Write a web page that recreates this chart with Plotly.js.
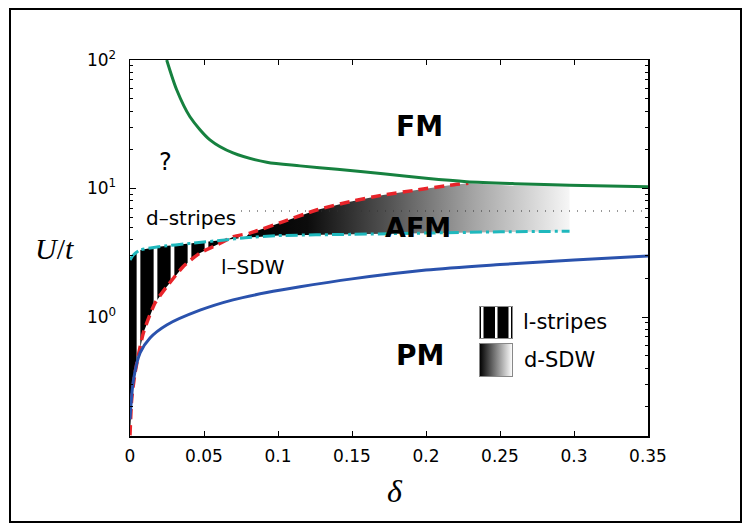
<!DOCTYPE html>
<html>
<head>
<meta charset="utf-8">
<script src="https://cdn.plot.ly/plotly-3.0.1.min.js"></script>
<style>html,body{margin:0;padding:0;background:#fff;}#chart{width:746px;height:525px;}</style>
</head>
<body>
<div id="chart"></div>
<script>
// ---- data ----
const greenX = [0.0248, 0.0316, 0.0405, 0.054, 0.0696, 0.0924, 0.1149, 0.14, 0.171, 0.2, 0.2275, 0.26, 0.297, 0.35];
const greenY = [100, 58.4, 36.2, 23.9, 18.9, 16.0, 15.0, 14.1, 13.0, 12.0, 11.3, 10.9, 10.6, 10.3];

const blueX = [0, 0.0023, 0.0068, 0.0135, 0.0248, 0.0473, 0.0696, 0.0924, 0.1149, 0.15, 0.2, 0.25, 0.3, 0.35];
const blueY = [0.16, 0.32, 0.525, 0.687, 0.867, 1.13, 1.36, 1.55, 1.72, 1.98, 2.32, 2.56, 2.78, 2.98];

const redX = [0, 0.0011, 0.0034, 0.009, 0.0169, 0.0248, 0.036, 0.0473, 0.0586, 0.0698, 0.081, 0.1036, 0.126, 0.1486, 0.171, 0.1937, 0.216, 0.2286];
const redY = [0.12, 0.226, 0.367, 0.75, 1.285, 1.72, 2.47, 3.15, 3.63, 4.22, 4.5, 5.52, 6.8, 7.9, 8.9, 9.73, 10.6, 11.0];

const cyanX = [0, 0.0023, 0.0068, 0.0191, 0.0417, 0.064, 0.0777, 0.1, 0.15, 0.2, 0.25, 0.297];
const cyanY = [2.78, 3.04, 3.32, 3.52, 3.75, 3.98, 4.14, 4.3, 4.4, 4.5, 4.6, 4.65];

const dottedX = [0.075, 0.35];
const dottedY = [6.68, 6.68];

const sdwTopX = [0.26, 0.297];
const sdwTopY = [10.5, 10.4];

const xTicks = [0, 0.05, 0.1, 0.15, 0.2, 0.25, 0.3, 0.35];
const xTickText = ['0', '0.05', '0.1', '0.15', '0.2', '0.25', '0.3', '0.35'];
const yTicks = [1, 10, 100];
const yTickText = ['10<sup>0</sup>', '10<sup>1</sup>', '10<sup>2</sup>'];
const yMinor = [0.2,0.3,0.4,0.5,0.6,0.7,0.8,0.9,2,3,4,5,6,7,8,9,20,30,40,50,60,70,80,90];

// ---- regions built from the boundary curves ----
const split = 0.0777;
// l-stripes: between cyan (top) and red (bottom) for delta <= split
const stripesX = [], stripesY = [];
cyanX.forEach((x, i) => { if (x <= split) { stripesX.push(x); stripesY.push(cyanY[i]); } });
for (let i = redX.length - 1; i >= 0; i--) if (redX[i] < split) { stripesX.push(redX[i]); stripesY.push(redY[i]); }

// d-SDW: between cyan (bottom) and red / cap (top) for delta >= split
const sdwX = [], sdwY = [];
cyanX.forEach((x, i) => { if (x >= split) { sdwX.push(x); sdwY.push(cyanY[i]); } });
for (let i = sdwTopX.length - 1; i >= 0; i--) { sdwX.push(sdwTopX[i]); sdwY.push(sdwTopY[i]); }
for (let i = redX.length - 1; i >= 0; i--) if (redX[i] > split) { sdwX.push(redX[i]); sdwY.push(redY[i]); }

const traces = [
  { x: stripesX, y: stripesY, type: 'scatter', mode: 'lines', fill: 'toself',
    line: { width: 0, color: 'black' }, fillcolor: 'black',
    fillpattern: { shape: '|', bgcolor: 'black', fgcolor: 'white', size: 17, solidity: 0.22 },
    hoverinfo: 'skip', showlegend: false },
  { x: sdwX, y: sdwY, type: 'scatter', mode: 'lines', fill: 'toself',
    line: { width: 0, color: 'black' },
    fillgradient: { type: 'horizontal', start: 0.075, stop: 0.30,
      colorscale: [[0, 'rgb(0,0,0)'], [0.2, 'rgb(12,12,12)'], [0.45, 'rgb(85,85,85)'], [0.7, 'rgb(165,165,165)'], [1, 'rgb(250,250,250)']] },
    hoverinfo: 'skip', showlegend: false },
  { x: dottedX, y: dottedY, type: 'scatter', mode: 'lines',
    line: { color: '#333', width: 1.2, dash: '1px,7px' }, showlegend: false },
  { x: redX, y: redY, type: 'scatter', mode: 'lines',
    line: { color: '#e8242a', width: 3.5, dash: '10px,6px', shape: 'spline', smoothing: 0.6 }, showlegend: false },
  { x: cyanX, y: cyanY, type: 'scatter', mode: 'lines',
    line: { color: '#1fb8bd', width: 3, dash: '12px,4px,3px,4px', shape: 'spline', smoothing: 0.6 }, showlegend: false },
  { x: blueX, y: blueY, type: 'scatter', mode: 'lines',
    line: { color: '#2a52ad', width: 3, shape: 'spline', smoothing: 0.8 }, showlegend: false },
  { x: greenX, y: greenY, type: 'scatter', mode: 'lines',
    line: { color: '#16813f', width: 3, shape: 'spline', smoothing: 0.8 }, showlegend: false }
];

const px = v => (v - 130) / 518;   // pixel -> paper x
const py = v => (436 - v) / 376;   // pixel -> paper y

const stripesSVG = "<svg xmlns='http://www.w3.org/2000/svg' width='34' height='33' viewBox='0 0 34 33'>" +
  "<rect x='0.5' y='0.5' width='33' height='32' fill='black' stroke='#888'/>" +
  "<rect x='2' y='1' width='2.5' height='31' fill='white'/>" +
  "<rect x='16' y='1' width='2.5' height='31' fill='white'/>" +
  "<rect x='29.5' y='1' width='2.5' height='31' fill='white'/></svg>";
const gradSVG = "<svg xmlns='http://www.w3.org/2000/svg' width='34' height='34' viewBox='0 0 34 34'>" +
  "<defs><linearGradient id='g' x1='0' y1='0' x2='1' y2='0'><stop offset='0' stop-color='black'/><stop offset='1' stop-color='white'/></linearGradient></defs>" +
  "<rect x='0.5' y='0.5' width='33' height='33' fill='url(#g)' stroke='#888'/></svg>";
const svgURI = s => 'data:image/svg+xml;charset=utf-8,' + encodeURIComponent(s);

const txt = (x, y, t, size, bold, extra) => Object.assign({
  x: x, y: y, text: bold ? '<b>' + t + '</b>' : t, showarrow: false,
  font: { family: 'DejaVu Sans', size: size, color: 'black' }, xanchor: 'center', yanchor: 'middle'
}, extra || {});

const layout = {
  width: 746, height: 525,
  margin: { l: 130, r: 98, t: 60, b: 89 },
  paper_bgcolor: 'white', plot_bgcolor: 'white',
  showlegend: false,
  xaxis: {
    range: [0, 0.35], tickvals: xTicks, ticktext: xTickText,
    ticks: 'inside', ticklen: 5, tickwidth: 1, tickcolor: 'black',
    showline: true, linecolor: 'black', linewidth: 1.5, mirror: 'ticks',
    showgrid: false, zeroline: false, ticklabelstandoff: 4,
    tickfont: { family: 'DejaVu Sans', size: 17, color: 'black' }
  },
  yaxis: {
    type: 'log', range: [-0.926, 2], tickvals: yTicks, ticktext: yTickText,
    ticks: 'inside', ticklen: 6, tickwidth: 1, tickcolor: 'black',
    minor: { tickvals: yMinor, ticks: 'inside', ticklen: 3, tickcolor: 'black', tickwidth: 1, showgrid: false },
    showline: true, linecolor: 'black', linewidth: 1.5, mirror: 'ticks',
    showgrid: false, zeroline: false, ticklabelstandoff: 9,
    tickfont: { family: 'DejaVu Sans', size: 17, color: 'black' }
  },
  annotations: [
    txt(0.1953, 1.479, 'FM', 28, true),
    txt(0.0243, 1.206, '?', 24, false),
    txt(0.0412, 0.77, 'd–stripes', 20, false),
    txt(0.1946, 0.693, 'AFM', 27, true),
    txt(0.0831, 0.389, 'l–SDW', 20, false),
    txt(0.196, -0.303, 'PM', 28, true),
    txt(px(521), py(322), 'l-stripes', 21, false, { xref: 'paper', yref: 'paper', xanchor: 'left' }),
    txt(px(522), py(360), 'd-SDW', 21, false, { xref: 'paper', yref: 'paper', xanchor: 'left' }),
    { xref: 'paper', yref: 'paper', x: px(54), y: py(248), text: '<i>U</i>/<i>t</i>', showarrow: false,
      font: { family: 'Liberation Serif', size: 30, color: 'black' }, xanchor: 'center', yanchor: 'middle' },
    { xref: 'paper', yref: 'paper', x: px(395), y: py(491), text: '<i>δ</i>', showarrow: false,
      font: { family: 'Liberation Serif', size: 32, color: 'black' }, xanchor: 'center', yanchor: 'middle' }
  ],
  images: [
    { source: svgURI(stripesSVG), xref: 'paper', yref: 'paper', x: px(479), y: py(306),
      sizex: 34 / 518, sizey: 33 / 376, xanchor: 'left', yanchor: 'top', sizing: 'stretch', layer: 'above' },
    { source: svgURI(gradSVG), xref: 'paper', yref: 'paper', x: px(479), y: py(343),
      sizex: 34 / 518, sizey: 34 / 376, xanchor: 'left', yanchor: 'top', sizing: 'stretch', layer: 'above' }
  ],
  shapes: [
    { type: 'rect', xref: 'paper', yref: 'paper', x0: px(10), x1: px(741), y0: py(522), y1: py(9),
      line: { color: 'black', width: 2 }, fillcolor: 'rgba(0,0,0,0)', layer: 'below' }
  ]
};

Plotly.newPlot('chart', traces, layout, { displayModeBar: false, staticPlot: true });
</script>
</body>
</html>
